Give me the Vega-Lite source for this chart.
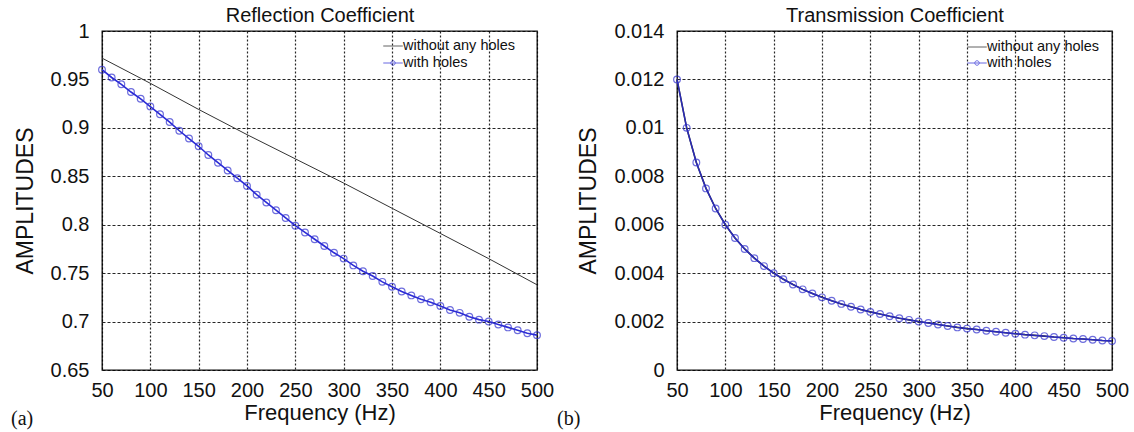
{
  "$schema": "https://vega.github.io/schema/vega-lite/v6.json",
  "background": "white",
  "padding": {"left": 10, "top": 4, "right": 10, "bottom": 2},
  "config": {
    "font": "Liberation Sans",
    "view": {"stroke": "#111", "strokeWidth": 1.3},
    "axis": {"labelColor": "#111", "titleColor": "#111", "labelFont": "Liberation Sans", "titleFont": "Liberation Sans", "titleFontWeight": "normal"},
    "legend": {"labelColor": "#111"}
  },
  "datasets": {
    "refl": [
      {"f": 50, "v": 0.972, "series": "without any holes"},
      {"f": 100, "v": 0.946, "series": "without any holes"},
      {"f": 150, "v": 0.919, "series": "without any holes"},
      {"f": 200, "v": 0.893, "series": "without any holes"},
      {"f": 250, "v": 0.868, "series": "without any holes"},
      {"f": 300, "v": 0.843, "series": "without any holes"},
      {"f": 350, "v": 0.817, "series": "without any holes"},
      {"f": 400, "v": 0.791, "series": "without any holes"},
      {"f": 450, "v": 0.765, "series": "without any holes"},
      {"f": 500, "v": 0.738, "series": "without any holes"},
      {"f": 50, "v": 0.960, "series": "with holes"},
      {"f": 60, "v": 0.952, "series": "with holes"},
      {"f": 70, "v": 0.945, "series": "with holes"},
      {"f": 80, "v": 0.937, "series": "with holes"},
      {"f": 90, "v": 0.930, "series": "with holes"},
      {"f": 100, "v": 0.922, "series": "with holes"},
      {"f": 110, "v": 0.914, "series": "with holes"},
      {"f": 120, "v": 0.906, "series": "with holes"},
      {"f": 130, "v": 0.897, "series": "with holes"},
      {"f": 140, "v": 0.889, "series": "with holes"},
      {"f": 150, "v": 0.881, "series": "with holes"},
      {"f": 160, "v": 0.872, "series": "with holes"},
      {"f": 170, "v": 0.864, "series": "with holes"},
      {"f": 180, "v": 0.856, "series": "with holes"},
      {"f": 190, "v": 0.848, "series": "with holes"},
      {"f": 200, "v": 0.840, "series": "with holes"},
      {"f": 210, "v": 0.831, "series": "with holes"},
      {"f": 220, "v": 0.823, "series": "with holes"},
      {"f": 230, "v": 0.815, "series": "with holes"},
      {"f": 240, "v": 0.807, "series": "with holes"},
      {"f": 250, "v": 0.799, "series": "with holes"},
      {"f": 260, "v": 0.792, "series": "with holes"},
      {"f": 270, "v": 0.785, "series": "with holes"},
      {"f": 280, "v": 0.778, "series": "with holes"},
      {"f": 290, "v": 0.771, "series": "with holes"},
      {"f": 300, "v": 0.765, "series": "with holes"},
      {"f": 310, "v": 0.758, "series": "with holes"},
      {"f": 320, "v": 0.752, "series": "with holes"},
      {"f": 330, "v": 0.747, "series": "with holes"},
      {"f": 340, "v": 0.741, "series": "with holes"},
      {"f": 350, "v": 0.736, "series": "with holes"},
      {"f": 360, "v": 0.731, "series": "with holes"},
      {"f": 370, "v": 0.727, "series": "with holes"},
      {"f": 380, "v": 0.723, "series": "with holes"},
      {"f": 390, "v": 0.720, "series": "with holes"},
      {"f": 400, "v": 0.716, "series": "with holes"},
      {"f": 410, "v": 0.712, "series": "with holes"},
      {"f": 420, "v": 0.709, "series": "with holes"},
      {"f": 430, "v": 0.705, "series": "with holes"},
      {"f": 440, "v": 0.702, "series": "with holes"},
      {"f": 450, "v": 0.700, "series": "with holes"},
      {"f": 460, "v": 0.697, "series": "with holes"},
      {"f": 470, "v": 0.694, "series": "with holes"},
      {"f": 480, "v": 0.691, "series": "with holes"},
      {"f": 490, "v": 0.688, "series": "with holes"},
      {"f": 500, "v": 0.686, "series": "with holes"}
    ],
    "trans": [
      {"f": 50, "v": 0.0120}, {"f": 60, "v": 0.0100}, {"f": 70, "v": 0.00857}, {"f": 80, "v": 0.0075},
      {"f": 90, "v": 0.00667}, {"f": 100, "v": 0.0060}, {"f": 110, "v": 0.00545}, {"f": 120, "v": 0.0050},
      {"f": 130, "v": 0.00462}, {"f": 140, "v": 0.00429}, {"f": 150, "v": 0.0040}, {"f": 160, "v": 0.00375},
      {"f": 170, "v": 0.00353}, {"f": 180, "v": 0.00333}, {"f": 190, "v": 0.00316}, {"f": 200, "v": 0.0030},
      {"f": 210, "v": 0.00286}, {"f": 220, "v": 0.00273}, {"f": 230, "v": 0.00261}, {"f": 240, "v": 0.0025},
      {"f": 250, "v": 0.0024}, {"f": 260, "v": 0.00231}, {"f": 270, "v": 0.00222}, {"f": 280, "v": 0.00214},
      {"f": 290, "v": 0.00207}, {"f": 300, "v": 0.0020}, {"f": 310, "v": 0.00194}, {"f": 320, "v": 0.00188},
      {"f": 330, "v": 0.00182}, {"f": 340, "v": 0.00176}, {"f": 350, "v": 0.00171}, {"f": 360, "v": 0.00167},
      {"f": 370, "v": 0.00162}, {"f": 380, "v": 0.00158}, {"f": 390, "v": 0.00154}, {"f": 400, "v": 0.0015},
      {"f": 410, "v": 0.00146}, {"f": 420, "v": 0.00143}, {"f": 430, "v": 0.0014}, {"f": 440, "v": 0.00136},
      {"f": 450, "v": 0.00133}, {"f": 460, "v": 0.0013}, {"f": 470, "v": 0.00128}, {"f": 480, "v": 0.00125},
      {"f": 490, "v": 0.00122}, {"f": 500, "v": 0.0012}
    ]
  },
  "bounds": "flush",
  "spacing": 140,
  "resolve": {
    "scale": {"color": "independent", "shape": "independent", "x": "independent", "y": "independent"},
    "legend": {"color": "independent", "shape": "independent"}
  },
  "hconcat": [
    {
      "width": 435,
      "height": 339,
      "data": {"name": "refl"},
      "title": {"text": "(a)", "orient": "bottom", "anchor": "start", "frame": "group", "dx": -91, "offset": -14, "font": "Liberation Serif", "fontSize": 20, "fontWeight": "normal", "color": "#111"},
      "resolve": {"axis": {"x": "independent"}},
      "layer": [
        {
          "transform": [{"filter": "datum.series === 'without any holes'"}],
          "mark": {"type": "line", "color": "#333", "strokeWidth": 1},
          "encoding": {
            "x": {"field": "f", "type": "quantitative", "scale": {"domain": [50, 500], "nice": false, "zero": false},
              "axis": {"orient": "bottom", "title": "Frequency (Hz)", "values": [50,100,150,200,250,300,350,400,450,500], "labelFontSize": 20, "labelPadding": 10, "labelOverlap": false, "labelFlush": false, "ticks": false, "domain": false, "titleFontSize": 22, "titlePadding": 2, "grid": true, "gridColor": "#000", "gridDash": [2, 2], "gridOpacity": 0.85, "gridWidth": 1.2}},
            "y": {"field": "v", "type": "quantitative", "scale": {"domain": [0.65, 1], "nice": false, "zero": false},
              "axis": {"title": "AMPLITUDES", "values": [0.65,0.7,0.75,0.8,0.85,0.9,0.95,1], "format": "~g", "labelFontSize": 20, "labelPadding": 13, "labelOverlap": false, "labelFlush": false, "ticks": false, "domain": false, "titleFontSize": 23, "titlePadding": 13, "grid": true, "gridColor": "#000", "gridDash": [3, 2], "gridOpacity": 0.85, "gridWidth": 1.2}}
          }
        },
        {
          "transform": [{"filter": "datum.series === 'with holes'"}],
          "mark": {"type": "line", "color": "#2b2bd6", "strokeWidth": 1.6},
          "encoding": {
            "x": {"field": "f", "type": "quantitative", "axis": {"orient": "top", "title": "Reflection Coefficient", "labels": false, "ticks": false, "domain": false, "grid": false, "titleFontSize": 20, "titlePadding": 6}},
            "y": {"field": "v", "type": "quantitative"}
          }
        },
        {
          "transform": [{"filter": "datum.series === 'with holes'"}],
          "mark": {"type": "point", "shape": "circle", "filled": false, "color": "#3030d0", "strokeWidth": 1.2, "size": 45},
          "encoding": {
            "x": {"field": "f", "type": "quantitative", "axis": null},
            "y": {"field": "v", "type": "quantitative"}
          }
        },
        {
          "transform": [{"filter": "datum.f < 0"}],
          "mark": {"type": "point", "filled": false, "size": 225, "strokeWidth": 1},
          "encoding": {
            "x": {"field": "f", "type": "quantitative", "axis": null},
            "y": {"field": "v", "type": "quantitative"},
            "color": {"field": "series", "type": "nominal", "scale": {"domain": ["without any holes", "with holes"], "range": ["#222222", "#2b2bd6"]},
              "legend": {"orient": "none", "legendX": 283, "legendY": 7, "title": null, "labelFontSize": 14.5, "labelFont": "Liberation Sans", "symbolStrokeWidth": 1, "rowPadding": 2, "labelOffset": 2, "symbolSize": 225}},
            "shape": {"field": "series", "type": "nominal", "scale": {"domain": ["without any holes", "with holes"], "range": ["M-1.3,0H1.3", "M-1.3,0H1.3M0.3,0A0.3,0.3,0,1,1,-0.3,0A0.3,0.3,0,1,1,0.3,0"]}}
          }
        }
      ]
    },
    {
      "width": 435,
      "height": 339,
      "data": {"name": "trans"},
      "title": {"text": "(b)", "orient": "bottom", "anchor": "start", "frame": "group", "dx": -120, "offset": -14, "font": "Liberation Serif", "fontSize": 20, "fontWeight": "normal", "color": "#111"},
      "resolve": {"axis": {"x": "independent"}},
      "layer": [
        {
          "mark": {"type": "line", "color": "#222", "strokeWidth": 1.6},
          "encoding": {
            "x": {"field": "f", "type": "quantitative", "scale": {"domain": [50, 500], "nice": false, "zero": false},
              "axis": {"orient": "bottom", "title": "Frequency (Hz)", "values": [50,100,150,200,250,300,350,400,450,500], "labelFontSize": 20, "labelPadding": 10, "labelOverlap": false, "labelFlush": false, "ticks": false, "domain": false, "titleFontSize": 22, "titlePadding": 2, "grid": true, "gridColor": "#000", "gridDash": [2, 2], "gridOpacity": 0.85, "gridWidth": 1.2}},
            "y": {"field": "v", "type": "quantitative", "scale": {"domain": [0, 0.014], "nice": false, "zero": false},
              "axis": {"title": "AMPLITUDES", "values": [0,0.002,0.004,0.006,0.008,0.01,0.012,0.014], "format": "~g", "labelFontSize": 20, "labelPadding": 13, "labelOverlap": false, "labelFlush": false, "ticks": false, "domain": false, "titleFontSize": 23, "titlePadding": 13, "grid": true, "gridColor": "#000", "gridDash": [3, 2], "gridOpacity": 0.85, "gridWidth": 1.2}}
          }
        },
        {
          "mark": {"type": "line", "color": "#2b2bd6", "strokeWidth": 1.4, "opacity": 0.85},
          "encoding": {
            "x": {"field": "f", "type": "quantitative", "axis": {"orient": "top", "title": "Transmission Coefficient", "labels": false, "ticks": false, "domain": false, "grid": false, "titleFontSize": 20, "titlePadding": 6}},
            "y": {"field": "v", "type": "quantitative"}
          }
        },
        {
          "mark": {"type": "point", "shape": "circle", "filled": false, "color": "#3030d0", "strokeWidth": 1.2, "size": 45},
          "encoding": {
            "x": {"field": "f", "type": "quantitative", "axis": null},
            "y": {"field": "v", "type": "quantitative"}
          }
        },
        {
          "data": {"values": [{"f": -1, "v": 0, "series": "without any holes"}, {"f": -1, "v": 0, "series": "with holes"}]},
          "transform": [{"filter": "datum.f > 0"}],
          "mark": {"type": "point", "filled": false, "size": 225, "strokeWidth": 1},
          "encoding": {
            "x": {"field": "f", "type": "quantitative", "axis": null},
            "y": {"field": "v", "type": "quantitative"},
            "color": {"field": "series", "type": "nominal", "scale": {"domain": ["without any holes", "with holes"], "range": ["#222222", "#2b2bd6"]},
              "legend": {"orient": "none", "legendX": 292, "legendY": 8, "title": null, "labelFontSize": 14.5, "labelFont": "Liberation Sans", "symbolStrokeWidth": 1, "rowPadding": 1, "labelOffset": 2, "symbolSize": 225}},
            "shape": {"field": "series", "type": "nominal", "scale": {"domain": ["without any holes", "with holes"], "range": ["M-1.3,0H1.3", "M-1.3,0H1.3M0.3,0A0.3,0.3,0,1,1,-0.3,0A0.3,0.3,0,1,1,0.3,0"]}}
          }
        }
      ]
    }
  ]
}
